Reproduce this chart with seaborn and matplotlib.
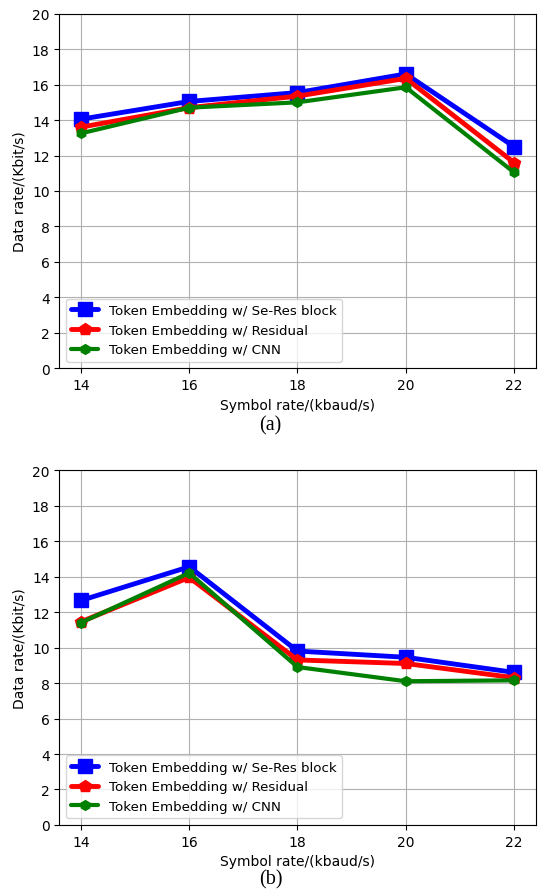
import matplotlib
matplotlib.use("Agg")
import matplotlib.pyplot as plt
import seaborn as sns
import pandas as pd

symbol_rates = [14, 16, 18, 20, 22]
labels = ["Token Embedding w/ Se-Res block", "Token Embedding w/ Residual", "Token Embedding w/ CNN"]

a_seres = [14.05, 15.05, 15.55, 16.6, 12.5]
a_residual = [13.6, 14.7, 15.35, 16.35, 11.6]
a_cnn = [13.25, 14.7, 15.0, 15.85, 11.05]

b_seres = [12.65, 14.55, 9.8, 9.45, 8.6]
b_residual = [11.45, 13.95, 9.3, 9.1, 8.3]
b_cnn = [11.4, 14.2, 8.9, 8.1, 8.15]

yticks = [0, 2, 4, 6, 8, 10, 12, 14, 16, 18, 20]

sns.set_style("ticks")
plt.rcParams["font.family"] = ["DejaVu Sans"]
plt.rcParams["text.color"] = "black"
plt.rcParams["axes.labelcolor"] = "black"
plt.rcParams["xtick.color"] = "black"
plt.rcParams["ytick.color"] = "black"

colors = ["blue", "red", "green"]
markers = ["s", "p", "h"]
msizes = [10, 9, 7]
lws = [3.5, 3.5, 3.0]

fig = plt.figure(figsize=(5.41, 8.95), dpi=100)
ax_a = fig.add_axes([0.1096, 0.5874, 0.8806, 0.3962])
ax_b = fig.add_axes([0.1096, 0.0771, 0.8806, 0.3966])

def draw(ax, series):
    for vals, lab, c, m, ms, lw in zip(series, labels, colors, markers, msizes, lws):
        df = pd.DataFrame({"x": symbol_rates, "y": vals})
        sns.lineplot(data=df, x="x", y="y", ax=ax, color=c, marker=m,
                     markersize=ms, linewidth=lw, markeredgecolor=c,
                     markeredgewidth=1, label=lab)
    ax.set_xticks(symbol_rates)
    ax.set_yticks(yticks)
    ax.set_ylim(0, 20)
    ax.set_xlim(13.6, 22.4)
    ax.grid(True, color="#b0b0b0", linewidth=0.8)
    ax.set_xlabel("Symbol rate/(kbaud/s)", fontsize=10)
    ax.set_ylabel("Data rate/(Kbit/s)", fontsize=10)
    ax.tick_params(labelsize=10, length=3.5, width=0.8, direction="out",
                   colors="black")
    for s in ax.spines.values():
        s.set_linewidth(0.8)
        s.set_color("black")
    leg = ax.legend(loc="lower left", fontsize=9.6, framealpha=0.8)
    for t in leg.get_texts():
        t.set_color("black")

draw(ax_a, [a_seres, a_residual, a_cnn])
draw(ax_b, [b_seres, b_residual, b_cnn])

fig.text(0.5, 0.524, "(a)", ha="center", va="center", family="Liberation Serif", fontsize=14.5)
fig.text(0.5, 0.0165, "(b)", ha="center", va="center", family="Liberation Serif", fontsize=14.5)

fig.savefig("out.png", dpi=100)
